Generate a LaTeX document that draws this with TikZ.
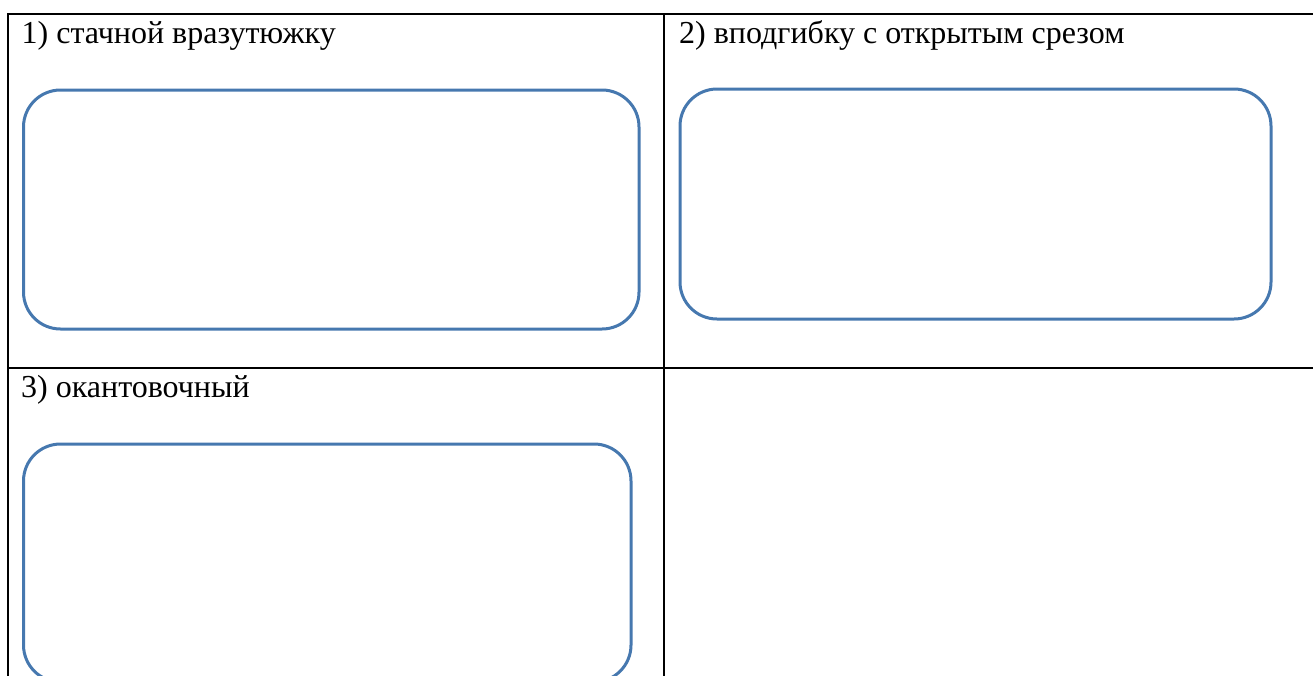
\documentclass[tikz,border=0pt]{standalone}
\usepackage{fontspec}
\setmainfont{Liberation Serif}
\definecolor{shapeblue}{RGB}{70,120,175}
\tikzset{
  grid/.style={line width=2.2pt, black},
  rbox/.style={draw=shapeblue, line width=3pt, rounded corners=37pt},
  lbl/.style={anchor=base west, inner sep=0pt, font=\fontsize{32pt}{36pt}\selectfont}
}
\begin{document}
\begin{tikzpicture}[x=1pt,y=-1pt]
\useasboundingbox (0,0) rectangle (1313,675);
\begin{scope}
\clip (0,0) rectangle (1313,675);
% table
\coordinate (tl) at (8,14);
\coordinate (tr) at (1320,14);
\coordinate (ml) at (8,368);
\coordinate (mr) at (1320,368);
\coordinate (bl) at (8,680);
\coordinate (mt) at (664,14);
\coordinate (mb) at (664,680);
\draw[grid] (tr) -- (tl) -- (bl);
\draw[grid] (ml) -- (mr);
\draw[grid] (mt) -- (mb);
% boxes
\draw[rbox] (23.5,90) rectangle (639,329);
\draw[rbox] (680,89) rectangle (1271,319);
\draw[rbox] (23.5,444) rectangle (631,682);
\end{scope}
% labels
\node[lbl] (t1) at (21.5,43) {1) стачной вразутюжку};
\node[lbl] (t2) at (679,43) {2) вподгибку с открытым срезом};
\node[lbl] (t3) at (21,397) {3) окантовочный};
\end{tikzpicture}
\end{document}
